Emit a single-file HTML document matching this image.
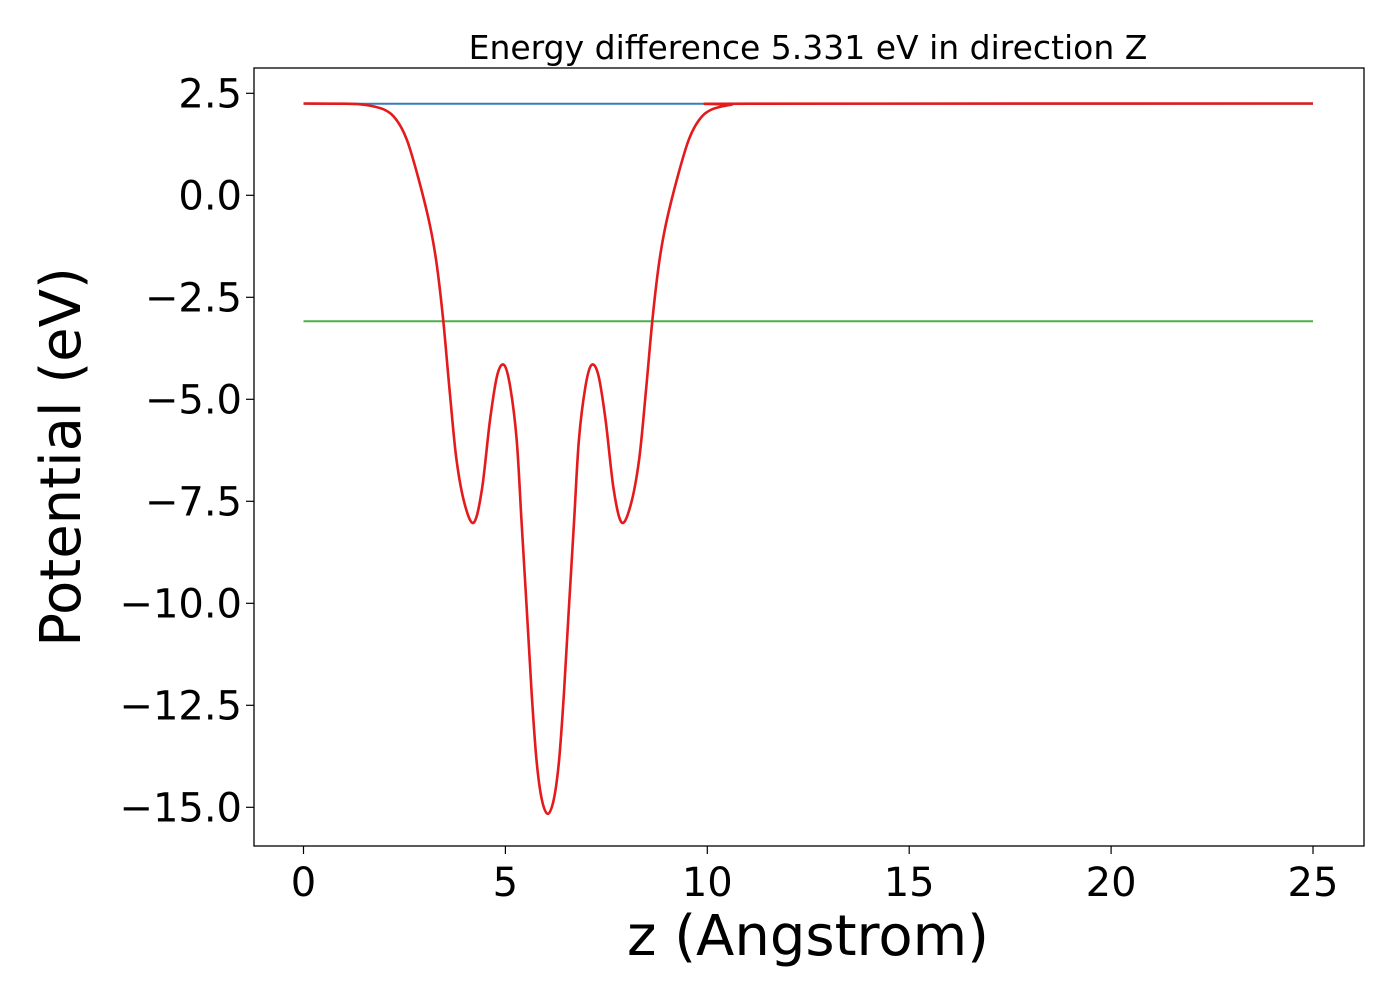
<!DOCTYPE html>
<html><head><meta charset="utf-8"><style>html,body{margin:0;padding:0;background:#fff}svg{display:block}</style></head>
<body>
<svg id="chart" width="1400" height="1000" xmlns="http://www.w3.org/2000/svg" font-family="'DejaVu Sans','Liberation Sans',sans-serif">
<rect width="1400" height="1000" fill="#fff"/>
<text x="808" y="59" text-anchor="middle" font-size="33">Energy difference 5.331 eV in direction Z</text>
<g id="plot"></g>
<text x="808" y="955" text-anchor="middle" font-size="56">z (Angstrom)</text>
<text transform="translate(80,457) rotate(-90)" text-anchor="middle" font-size="56">Potential (eV)</text>
</svg>
<script>
const zVals=[0,1.0,1.5,2.0,2.3,2.56,2.85,3.13,3.3,3.46,3.62,3.79,4.0,4.22,4.42,4.62,4.80,4.97,5.12,5.28,5.4,5.53,5.65,5.77,5.9,6.05,6.2,6.33,6.45,6.57,6.7,6.82,6.98,7.13,7.3,7.48,7.68,7.88,8.1,8.31,8.48,8.64,8.8,8.97,9.25,9.54,9.8,10.1,10.6,11.1,25];
const potVals=[2.25,2.245,2.22,2.1,1.85,1.36,0.4,-0.73,-1.7,-3.06,-4.8,-6.49,-7.6,-8.02,-7.2,-5.5,-4.4,-4.16,-4.7,-6.0,-8.0,-10.16,-12.2,-13.84,-14.8,-15.16,-14.8,-13.84,-12.2,-10.16,-8.0,-6.0,-4.7,-4.16,-4.4,-5.5,-7.2,-8.02,-7.6,-6.49,-4.8,-3.06,-1.7,-0.73,0.4,1.36,1.85,2.1,2.22,2.245,2.25];
const vacuumLevel=[2.245];
const energyDiff=[5.331];
const xTicks=[0,5,10,15,20,25];
const yTicks=[2.5,0,-2.5,-5,-7.5,-10,-12.5,-15];
const yTickLabels=["2.5","0.0","\u22122.5","\u22125.0","\u22127.5","\u221210.0","\u221212.5","\u221215.0"];

const NS="http://www.w3.org/2000/svg";
const L=254,R=1364,T=68,B=846;
const xs=z=>303.5+z*40.38;
const ys=v=>195.3-v*40.8;
const g=document.getElementById('plot');
function mk(t,a){const e=document.createElementNS(NS,t);for(const k in a)e.setAttribute(k,a[k]);g.appendChild(e);return e;}
// ticks
xTicks.forEach(t=>{
 const l=mk('line',{x1:xs(t),x2:xs(t),y1:B,y2:B+8,stroke:'#000','stroke-width':1.2});
 
 
 const tx=mk('text',{x:xs(t),y:B+50,'text-anchor':'middle','font-size':40});
 tx.textContent=String(t);
 
 
});
yTicks.forEach((t,i)=>{
 const l=mk('line',{x1:L-8,x2:L,y1:ys(t),y2:ys(t),stroke:'#000','stroke-width':1.2});
 
 
 const tx=mk('text',{x:L-12,y:ys(t)+14,'text-anchor':'end','font-size':40});
 tx.textContent=yTickLabels[i];
 
 
});
// lines
const z0=zVals[0],z1=zVals[zVals.length-1];
const bl=mk('line',{x1:xs(z0),x2:xs(z1),y1:ys(vacuumLevel[0]),y2:ys(vacuumLevel[0]),stroke:'#377eb8','stroke-width':2});


const gv=vacuumLevel[0]-energyDiff[0];
const gl=mk('line',{x1:xs(z0),x2:xs(z1),y1:ys(gv),y2:ys(gv),stroke:'#4daf4a','stroke-width':2});


// red curve (Catmull-Rom)
const P=zVals.map((z,i)=>[xs(z),ys(potVals[i])]);
let d=`M${P[0][0]},${P[0][1]}`;
for(let i=0;i<P.length-1;i++){
 const p0=P[Math.max(0,i-1)],p1=P[i],p2=P[i+1],p3=P[Math.min(P.length-1,i+2)];
 const c1=[p1[0]+(p2[0]-p0[0])/6,p1[1]+(p2[1]-p0[1])/6];
 const c2=[p2[0]-(p3[0]-p1[0])/6,p2[1]-(p3[1]-p1[1])/6];
 d+=` C${c1[0]},${c1[1]} ${c2[0]},${c2[1]} ${p2[0]},${p2[1]}`;
}
const rc=mk('path',{d:d,fill:'none',stroke:'#e41a1c','stroke-width':2.6});


const fr=mk('rect',{x:L,y:T,width:R-L,height:B-T,fill:'none',stroke:'#000','stroke-width':1.3});


</script>
</body></html>
